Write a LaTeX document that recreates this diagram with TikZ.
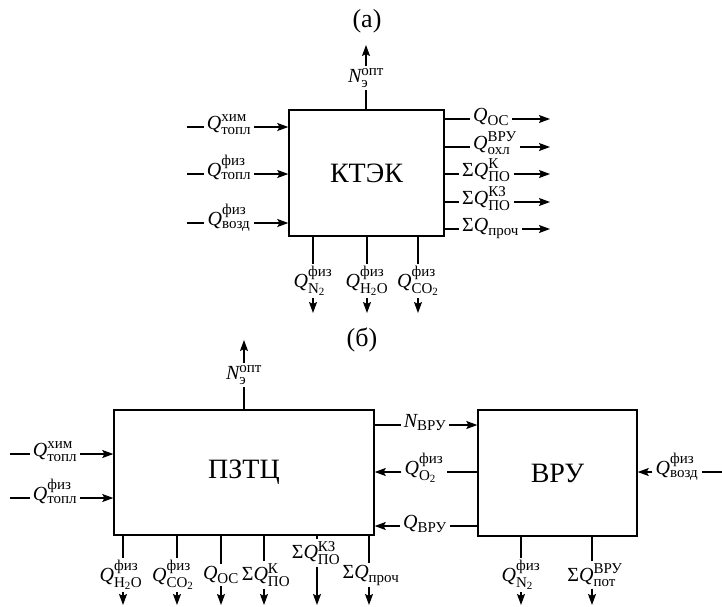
\documentclass[tikz,border=0pt]{standalone}
\usepackage{fontspec}
\setmainfont{Liberation Serif}
\usepackage{amsmath}
\usetikzlibrary{arrows.meta}
\DeclareMathSizes{20}{20}{15}{11}
\newcommand{\QQ}[2]{$\textit{Q}^{\text{#1}}_{\text{#2}}$}
\newcommand{\SQ}[2]{Σ$\textit{Q}^{\text{#1}}_{\text{#2}}$}
\begin{document}
\begin{tikzpicture}[x=1pt,y=-1pt,
  blk/.style={draw,line width=1.4pt,inner sep=0pt,font=\fontsize{28}{32}\selectfont},
  lbl/.style={font=\fontsize{20}{24}\selectfont,inner xsep=3pt,inner ysep=2pt},
  ttl/.style={font=\fontsize{26}{30}\selectfont},
  ln/.style={line width=1.2pt},
  arr/.style={ln,-{Stealth[length=11pt,width=8pt,inset=2pt]}}]
\useasboundingbox (0,0) rectangle (722,606);

% ---------------- (a) ----------------
\node[ttl] (ta) at (367,21) {(a)};
\node[blk,minimum width=155pt,minimum height=126pt] (ktek) at (366.5,173) {КТЭК};

% top
\node[lbl] (an) at (366,78) {$\textit{N}^{\text{опт}}_{\text{э}}$};
\coordinate (ane) at (366,45);
\draw[ln] (ktek.north -| an) -- (an.south);
\draw[arr] (an.north) -- (ane);

% left inputs
\coordinate (a1s) at (187,127);
\coordinate (a2s) at (187,174);
\coordinate (a3s) at (187,223);
\node[lbl,anchor=mid] (a1) at (229,127) {\QQ{хим}{топл}};
\node[lbl,anchor=mid] (a2) at (229,174) {\QQ{физ}{топл}};
\node[lbl,anchor=mid] (a3) at (229,223) {\QQ{физ}{возд}};
\draw[ln] (a1s) -- (a1.mid west);
\draw[arr] (a1.mid east) -- (ktek.west |- a1.mid);
\draw[ln] (a2s) -- (a2.mid west);
\draw[arr] (a2.mid east) -- (ktek.west |- a2.mid);
\draw[ln] (a3s) -- (a3.mid west);
\draw[arr] (a3.mid east) -- (ktek.west |- a3.mid);

% right outputs
\node[lbl,anchor=mid west] (r1) at (470,119) {$\textit{Q}_{\text{ОС}}$};
\node[lbl,anchor=mid west] (r2) at (470,147) {\QQ{ВРУ}{охл}};
\node[lbl,anchor=mid west] (r3) at (459,174) {\SQ{К}{ПО}};
\node[lbl,anchor=mid west] (r4) at (459,202) {\SQ{КЗ}{ПО}};
\node[lbl,anchor=mid west] (r5) at (459,229) {Σ$\textit{Q}_{\text{проч}}$};
\coordinate (r1e) at (550,119);
\coordinate (r2e) at (550,147);
\coordinate (r3e) at (550,174);
\coordinate (r4e) at (550,202);
\coordinate (r5e) at (550,229);
\draw[ln] (ktek.east |- r1.mid west) -- (r1.mid west);
\draw[arr] (r1.mid east) -- (r1e);
\draw[ln] (ktek.east |- r2.mid west) -- (r2.mid west);
\draw[arr] (r2.mid east) -- (r2e);
\draw[ln] (ktek.east |- r3.mid west) -- (r3.mid west);
\draw[arr] (r3.mid east) -- (r3e);
\draw[ln] (ktek.east |- r4.mid west) -- (r4.mid west);
\draw[arr] (r4.mid east) -- (r4e);
\draw[ln] (ktek.east |- r5.mid west) -- (r5.mid west);
\draw[arr] (r5.mid east) -- (r5e);

% bottom outputs
\node[lbl] (b1) at (313,281) {$\textit{Q}^{\text{физ}}_{\text{N}_{\text{2}}}$};
\node[lbl] (b2) at (367,281) {$\textit{Q}^{\text{физ}}_{\text{H}_{\text{2}}\text{O}}$};
\node[lbl] (b3) at (418,281) {$\textit{Q}^{\text{физ}}_{\text{CO}_{\text{2}}}$};
\coordinate (b1e) at (313,313);
\coordinate (b2e) at (367,313);
\coordinate (b3e) at (418,313);
\draw[ln] (ktek.south -| b1e) -- (b1.north -| b1e);
\draw[arr] (b1.south -| b1e) -- (b1e);
\draw[ln] (ktek.south -| b2e) -- (b2.north -| b2e);
\draw[arr] (b2.south -| b2e) -- (b2e);
\draw[ln] (ktek.south -| b3e) -- (b3.north -| b3e);
\draw[arr] (b3.south -| b3e) -- (b3e);

% ---------------- (б) ----------------
\node[ttl] (tb) at (362,340) {(б)};
\node[blk,minimum width=260pt,minimum height=125pt] (pztc) at (244,472.5) {ПЗТЦ};
\node[blk,minimum width=159pt,minimum height=126pt] (vru) at (557.5,473) {ВРУ};

% top
\node[lbl] (bn) at (244,375) {$\textit{N}^{\text{опт}}_{\text{э}}$};
\coordinate (bne) at (244,340);
\draw[ln] (pztc.north -| bn) -- (bn.south);
\draw[arr] (bn.north) -- (bne);

% left inputs
\coordinate (p1s) at (10,454);
\coordinate (p2s) at (10,498);
\node[lbl,anchor=mid] (p1) at (55,454) {\QQ{хим}{топл}};
\node[lbl,anchor=mid] (p2) at (55,498) {\QQ{физ}{топл}};
\draw[ln] (p1s) -- (p1.mid west);
\draw[arr] (p1.mid east) -- (pztc.west |- p1.mid);
\draw[ln] (p2s) -- (p2.mid west);
\draw[arr] (p2.mid east) -- (pztc.west |- p2.mid);

% bottom outputs of ПЗТЦ
\node[lbl] (c1) at (121,575) {$\textit{Q}^{\text{физ}}_{\text{H}_{\text{2}}\text{O}}$};
\node[lbl] (c2) at (173,575) {$\textit{Q}^{\text{физ}}_{\text{CO}_{\text{2}}}$};
\node[lbl] (c3) at (221,575) {$\textit{Q}_{\text{ОС}}$};
\node[lbl] (c4) at (266,575) {\SQ{К}{ПО}};
\node[lbl] (c5) at (316,553) {\SQ{КЗ}{ПО}};
\node[lbl] (c6) at (371,575) {Σ$\textit{Q}_{\text{проч}}$};
\coordinate (c1e) at (123,605);
\coordinate (c2e) at (177,605);
\coordinate (c3e) at (221,605);
\coordinate (c4e) at (264,605);
\coordinate (c5e) at (317,605);
\coordinate (c6e) at (369,605);
\draw[ln] (pztc.south -| c1e) -- (c1.north -| c1e);
\draw[arr] (c1.south -| c1e) -- (c1e);
\draw[ln] (pztc.south -| c2e) -- (c2.north -| c2e);
\draw[arr] (c2.south -| c2e) -- (c2e);
\draw[ln] (pztc.south -| c3e) -- (c3.north -| c3e);
\draw[arr] (c3.south -| c3e) -- (c3e);
\draw[ln] (pztc.south -| c4e) -- (c4.north -| c4e);
\draw[arr] (c4.south -| c4e) -- (c4e);
\draw[ln] (pztc.south -| c5e) -- (c5.north -| c5e);
\draw[arr] (c5.south -| c5e) -- (c5e);
\draw[ln] (pztc.south -| c6e) -- (c6.north -| c6e);
\draw[arr] (c6.south -| c6e) -- (c6e);

% between ПЗТЦ and ВРУ
\node[lbl,anchor=mid] (nv) at (425,425) {$\textit{N}_{\text{ВРУ}}$};
\node[lbl,anchor=mid] (qo) at (424,472) {$\textit{Q}^{\text{физ}}_{\text{O}_{\text{2}}}$};
\node[lbl,anchor=mid] (qb) at (425,526) {$\textit{Q}_{\text{ВРУ}}$};
\draw[ln] (pztc.east |- nv.mid) -- (nv.mid west);
\draw[arr] (nv.mid east) -- (vru.west |- nv.mid);
\draw[ln] (vru.west |- qo.mid) -- (qo.mid east);
\draw[arr] (qo.mid west) -- (pztc.east |- qo.mid);
\draw[ln] (vru.west |- qb.mid) -- (qb.mid east);
\draw[arr] (qb.mid west) -- (pztc.east |- qb.mid);

% right input of ВРУ
\coordinate (qvs) at (722,472);
\node[lbl,anchor=mid] (qv) at (677,472) {\QQ{физ}{возд}};
\draw[ln] (qvs) -- (qv.mid east);
\draw[arr] (qv.mid west) -- (vru.east |- qv.mid);

% bottom outputs of ВРУ
\node[lbl] (d1) at (521,575) {$\textit{Q}^{\text{физ}}_{\text{N}_{\text{2}}}$};
\node[lbl] (d2) at (595,575) {\SQ{ВРУ}{пот}};
\coordinate (d1e) at (521,605);
\coordinate (d2e) at (592,605);
\draw[ln] (vru.south -| d1e) -- (d1.north -| d1e);
\draw[arr] (d1.south -| d1e) -- (d1e);
\draw[ln] (vru.south -| d2e) -- (d2.north -| d2e);
\draw[arr] (d2.south -| d2e) -- (d2e);
\end{tikzpicture}
\end{document}
